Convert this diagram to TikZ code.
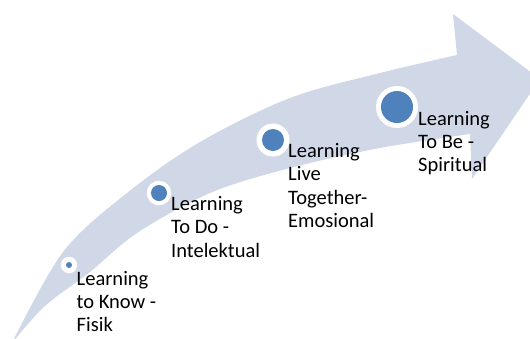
\documentclass[tikz,border=0pt]{standalone}
\usepackage{fontspec}
\setmainfont{Carlito}
\definecolor{bandc}{HTML}{D0D8E8}
\definecolor{dotc}{HTML}{4F81BD}
\begin{document}
\begin{tikzpicture}[x=1pt,y=-1pt,
  ringc/.style={circle,fill=white,inner sep=0pt,minimum size=#1},
  dotb/.style={circle,fill=dotc,inner sep=0pt,minimum size=#1},
  lbl/.style={anchor=base west,align=left,inner sep=0pt,font=\fontsize{20.5}{23.4}\selectfont}]
\useasboundingbox (0,0) rectangle (530,338);
\clip (0,0) rectangle (530,338);
% curved arrow
\fill[bandc] plot[smooth,tension=0.55] coordinates {(12,343) (63,252) (127,193) (200,142) (290,98) (380,73) (457,55)}
  -- (453,14) -- (540,79) -- (472,179) -- (470,134)
  -- plot[smooth,tension=0.55] coordinates {(470,134) (380,148) (290,168) (210,193) (137,233) (90,272) (45,306) (12,343)}
  -- cycle;
% dots
\node[ringc=16.5pt] (r1) at (69,265) {};
\node[dotb=6pt] (d1) at (r1.center) {};
\node[ringc=24.5pt] (r2) at (159,193) {};
\node[dotb=16pt] (d2) at (r2.center) {};
\node[ringc=33pt] (r3) at (273,140) {};
\node[dotb=22pt] (d3) at (r3.center) {};
\node[ringc=42pt] (r4) at (397,107) {};
\node[dotb=32pt] (d4) at (r4.center) {};
% labels (anchor at baseline of last line)
\node[lbl] (t1) at (76.5,331.8) {Learning\\to Know -\\Fisik};
\node[lbl] (t2) at (171,257.3) {Learning\\To Do -\\Intelektual};
\node[lbl] (t3) at (288,227.7) {Learning\\Live\\Together-\\Emosional};
\node[lbl] (t4) at (418,171.8) {Learning\\To Be -\\Spiritual};
\end{tikzpicture}
\end{document}
